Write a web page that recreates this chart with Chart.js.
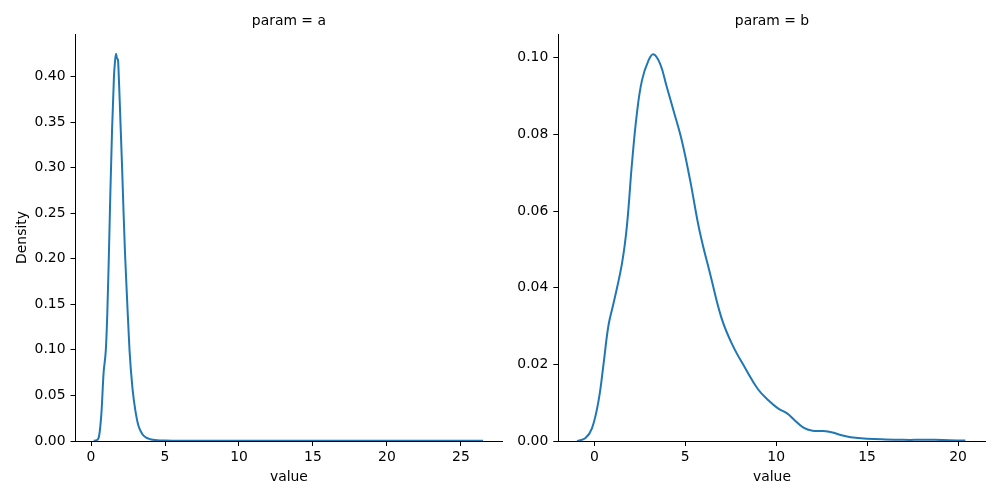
<!DOCTYPE html>
<html>
<head>
<meta charset="utf-8">
<script src="https://cdn.jsdelivr.net/npm/chart.js@4"></script>
<style>
  html, body { margin: 0; padding: 0; background: #fff; }
  #wrap { position: relative; width: 1000px; height: 500px; }
  canvas { position: absolute; top: 0; }
</style>
</head>
<body>
<div id="wrap">
  <canvas id="chartA" width="510" height="500" style="left:0"></canvas>
  <canvas id="chartB" width="490" height="500" style="left:510px"></canvas>
</div>
<script>
// panel titles
const panelTitles = ["param = a", "param = b"];

// param = a : KDE curve (value, density)
const valuesA = [0.18, 0.4, 0.55, 0.7, 0.85, 1.0, 1.1, 1.2, 1.3, 1.42, 1.55, 1.63, 1.69, 1.75, 1.82, 1.9,
    2.0, 2.1, 2.2, 2.3, 2.43, 2.6, 2.8, 3.0, 3.2, 3.45, 3.7, 4.0, 4.5, 5.0, 6, 7, 8, 10, 12, 15, 18, 20, 22, 24, 26.5];
const densityA = [0.0003, 0.001, 0.006, 0.03, 0.075, 0.1, 0.14, 0.2, 0.268, 0.341, 0.4, 0.418, 0.425, 0.42, 0.418, 0.39,
    0.345, 0.3, 0.25, 0.205, 0.158, 0.1, 0.058, 0.033, 0.017, 0.008, 0.004, 0.002, 0.0008, 0.0005, 0.0003, 0.0003, 0.0002, 0.0002, 0.0002, 0.0002, 0.0002, 0.0002, 0.0002, 0.0002, 0.0002];

// param = b : KDE curve (value, density)
const valuesB = [-0.95, -0.5, -0.13, 0.24, 0.51, 0.78, 1.06, 1.52, 1.79, 2.07, 2.34, 2.62, 2.98, 3.25, 3.62, 3.99,
    4.35, 4.81, 5.27, 5.78, 6.4, 7.0, 7.6, 8.3, 9.0, 9.6, 10.1, 10.6, 11.0, 11.5, 12.0, 12.6, 13.1, 13.6, 14.1,
    15.0, 16.0, 17.0, 18.0, 18.7, 19.5, 20.4];
const densityB = [0, 0.0007, 0.0033, 0.0107, 0.0202, 0.0302, 0.036, 0.0463, 0.056, 0.0724, 0.0854, 0.0941, 0.0993, 0.1009, 0.0984, 0.0923,
    0.0863, 0.0784, 0.068, 0.055, 0.043, 0.032, 0.025, 0.019, 0.0135, 0.0105, 0.0085, 0.0072, 0.0055, 0.0035, 0.0027, 0.0026, 0.0022, 0.0015, 0.001,
    0.0006, 0.0004, 0.0003, 0.0003, 0.0003, 0.0002, 0.0001];

// axis ranges and tick steps
const xRangeA = [-1.05, 27.8];
const yRangeA = [0, 0.4466];
const xRangeB = [-1.98, 21.52];
const yRangeB = [0, 0.1062];
const yStepA = 0.05;
const yStepB = 0.02;
const xStep = 5;

const FONT = "'DejaVu Sans', sans-serif";
const LINE_COLOR = "#1f77b4";

// draws the facet title centred above the plot area
const facetTitle = {
    id: "facetTitle",
    afterDraw(chart, args, opts) {
        const { ctx, chartArea } = chart;
        ctx.save();
        ctx.font = "13.9px " + FONT;
        ctx.fillStyle = "#000";
        ctx.textAlign = "center";
        ctx.textBaseline = "middle";
        ctx.fillText(opts.text, (chartArea.left + chartArea.right) / 2, 21);
        ctx.restore();
    }
};

function makePanel(canvasId, xs, ys, xRange, yRange, yStep, title, yAxisWidth, rightPad, showYTitle, smooth) {
    const ctx = document.getElementById(canvasId).getContext("2d");
    const line = {
        data: xs.map((x, i) => ({ x: x, y: ys[i] })),
        borderColor: LINE_COLOR,
        borderWidth: 2,
        pointRadius: 0,
        fill: false
    };
    if (smooth) line.tension = 0.4;
    else line.cubicInterpolationMode = "monotone";

    return new Chart(ctx, {
        type: "line",
        data: { datasets: [line] },
        options: {
            responsive: false,
            animation: false,
            layout: { padding: { top: 34, right: rightPad, left: 0, bottom: 0 } },
            plugins: {
                legend: { display: false },
                tooltip: { enabled: false },
                facetTitle: { text: title }
            },
            scales: {
                x: {
                    type: "linear",
                    min: xRange[0],
                    max: xRange[1],
                    afterFit: (scale) => { scale.height = 59; },
                    border: { color: "#000", width: 1 },
                    grid: { display: true, drawOnChartArea: false, drawTicks: true, tickLength: 5, tickColor: "#000" },
                    ticks: {
                        stepSize: xStep,
                        includeBounds: false,
                        maxRotation: 0,
                        padding: 3,
                        color: "#000",
                        font: { family: FONT, size: 13.9 },
                        callback: (v) => v
                    },
                    title: {
                        display: true,
                        text: "value",
                        color: "#000",
                        font: { family: FONT, size: 13.9 },
                        padding: { top: 0, bottom: 14.7 }
                    }
                },
                y: {
                    type: "linear",
                    min: yRange[0],
                    max: yRange[1],
                    afterFit: (scale) => { scale.width = yAxisWidth; },
                    border: { color: "#000", width: 1 },
                    grid: { display: true, drawOnChartArea: false, drawTicks: true, tickLength: 5, tickColor: "#000" },
                    ticks: {
                        stepSize: yStep,
                        includeBounds: false,
                        padding: 5,
                        color: "#000",
                        font: { family: FONT, size: 13.9 },
                        callback: (v) => v.toFixed(2)
                    },
                    title: {
                        display: showYTitle,
                        text: "Density",
                        color: "#000",
                        font: { family: FONT, size: 13.9 },
                        padding: { top: 13.7, bottom: 0 }
                    }
                }
            }
        },
        plugins: [facetTitle]
    });
}

document.addEventListener("DOMContentLoaded", () => {
    makePanel("chartA", valuesA, densityA, xRangeA, yRangeA, yStepA, panelTitles[0], 75.5, 7.7, true, false);
    makePanel("chartB", valuesB, densityB, xRangeB, yRangeB, yStepB, panelTitles[1], 48.3, 14.3, false, true);
});
</script>
</body>
</html>
